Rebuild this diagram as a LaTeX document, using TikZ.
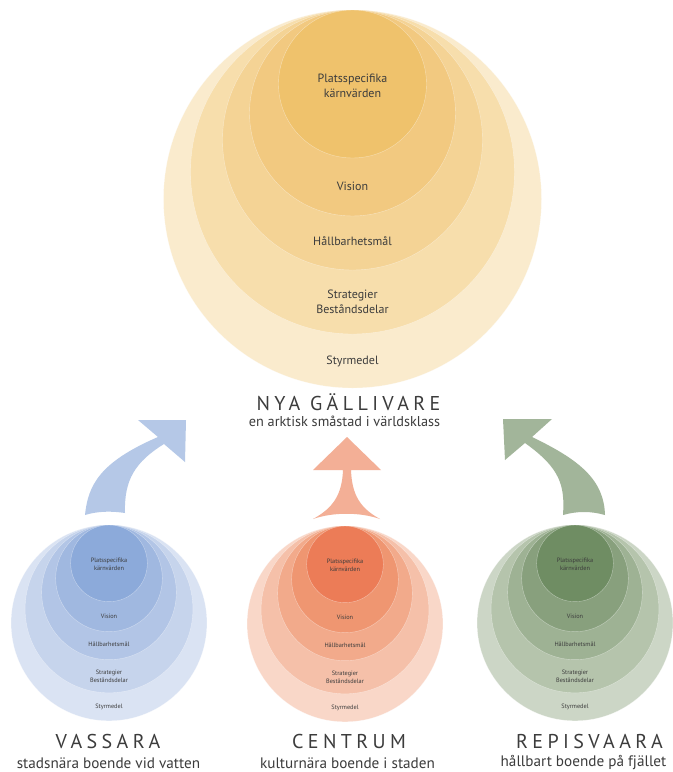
\documentclass[tikz,border=0pt]{standalone}
\usepackage{fontspec}
\setmainfont{PT Sans}
\newfontfamily\spacedfont[LetterSpace=22]{PT Sans}
\definecolor{yel1}{HTML}{FAEBCD}
\definecolor{yel2}{HTML}{F7DEAC}
\definecolor{yel3}{HTML}{F4D395}
\definecolor{yel4}{HTML}{F2C980}
\definecolor{yel5}{HTML}{EFC26C}
\definecolor{blu1}{HTML}{DAE3F3}
\definecolor{blu2}{HTML}{C6D4EC}
\definecolor{blu3}{HTML}{B2C5E6}
\definecolor{blu4}{HTML}{A0B8E0}
\definecolor{blu5}{HTML}{8CAADA}
\definecolor{sal1}{HTML}{F9D7C8}
\definecolor{sal2}{HTML}{F5C0A9}
\definecolor{sal3}{HTML}{F2AA8B}
\definecolor{sal4}{HTML}{EF9671}
\definecolor{sal5}{HTML}{EC7C57}
\definecolor{grn1}{HTML}{CCD6C6}
\definecolor{grn2}{HTML}{B5C4AC}
\definecolor{grn3}{HTML}{9EB294}
\definecolor{grn4}{HTML}{88A07D}
\definecolor{grn5}{HTML}{6F8D63}
\definecolor{bluarrow}{HTML}{B5C8E7}
\definecolor{salarrow}{HTML}{F3AF96}
\definecolor{grnarrow}{HTML}{A2B59A}
\definecolor{txt}{HTML}{3C3C3C}
\tikzset{
  ring/.style={draw=white, draw opacity=0.45, line width=0.3pt},
  lab/.style={text=txt, align=center, inner sep=0pt},
  title/.style={text=txt, inner sep=0pt, font=\spacedfont\fontsize{15}{18}\selectfont},
  subtitle/.style={text=txt, inner sep=0pt, font=\fontsize{11.4}{13}\selectfont},
}
% #1 name prefix, #2 centre x, #3 top y, #4 scale, #5 colour prefix, #6 font size, #7 line skip
\newcommand{\ringset}[7]{%
  \foreach \r/\k in {189/1,162/2,130/3,103/4,74/5}{
    \fill[fill=#5\k, ring] ({#2},{#3+\r*#4}) circle [radius={\r*#4}];
  }
  \begin{scope}[every node/.style={lab, font=\fontsize{#6}{#7}\selectfont}]
    \node (#1core) at ({#2},{#3+75.5*#4}) {Platsspecifika\\kärnvärden};
    \node (#1vision) at ({#2},{#3+176*#4}) {Vision};
    \node (#1mal) at ({#2},{#3+231*#4}) {Hållbarhetsmål};
    \node (#1strat) at ({#2},{#3+292*#4}) {Strategier\\Beståndsdelar};
    \node (#1styr) at ({#2},{#3+351*#4}) {Styrmedel};
  \end{scope}
}
\begin{document}
\begin{tikzpicture}[x=0.75pt,y=-0.75pt]
\useasboundingbox (0,0) rectangle (672,772);
\fill[white] (0,0) rectangle (672,772);

% main set
\ringset{top}{352.5}{10}{1}{yel}{9}{11.25}
\node[title] (nya) at (348.5,402.5) {NYA GÄLLIVARE};
\node[subtitle, font=\fontsize{10.7}{13}\selectfont] (nyasub) at (344.5,421) {en arktisk småstad i världsklass};

% three district sets
\ringset{vas}{109}{525}{0.518}{blu}{4.7}{5.8}
\ringset{cen}{345}{526}{0.518}{sal}{4.7}{5.8}
\ringset{rep}{575}{525}{0.518}{grn}{4.7}{5.8}

\node[title] (vas) at (108,741) {VASSARA};
\node[subtitle] (vassub) at (108.5,763) {stadsnära boende vid vatten};
\node[title] (cen) at (349,741) {CENTRUM};
\node[subtitle] (censub) at (347.5,763) {kulturnära boende i staden};
\node[title] (rep) at (589.5,741) {REPISVAARA};
\node[subtitle] (repsub) at (583.5,763) {hållbart boende på fjället};

% arrows
\fill[bluarrow] (85,515) .. controls (88,485) and (100,462) .. (158,437)
  -- (138,420) -- (186,420) -- (185,462) -- (164,444)
  .. controls (135,462) and (124,480) .. (125,513)
  .. controls (112,511) and (98,511) .. (85,515) -- cycle;
\fill[salarrow] (347,437) -- (381,470) -- (351,470)
  .. controls (352,495) and (360,508) .. (380,519)
  .. controls (360,512) and (333,512) .. (313,519)
  .. controls (333,508) and (342,495) .. (343,470)
  -- (313,470) -- cycle;
\fill[grnarrow] (503,419) -- (552,419) -- (532,437)
  .. controls (580,460) and (604,480) .. (605,515)
  .. controls (591,511) and (577,511) .. (563,515)
  .. controls (565,485) and (560,468) .. (525,443)
  -- (505,460) -- cycle;
\end{tikzpicture}
\end{document}
